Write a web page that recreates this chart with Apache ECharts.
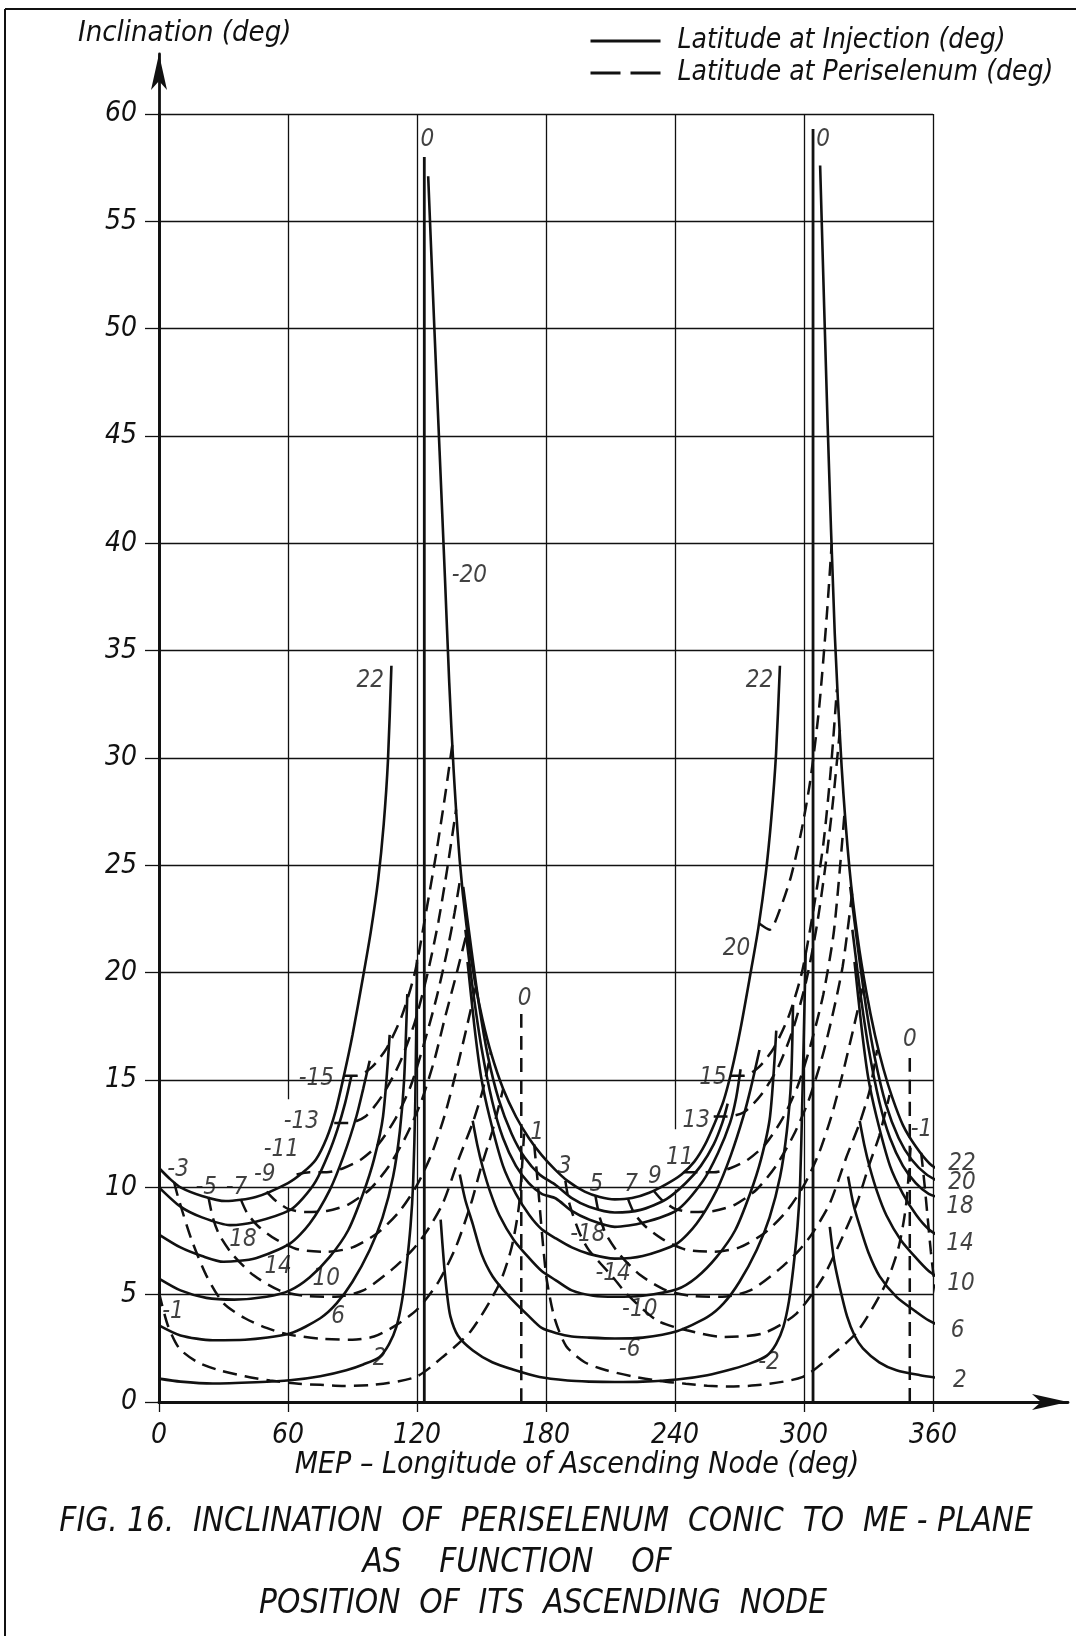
<!DOCTYPE html>
<html>
<head>
<meta charset="utf-8">
<script src="https://cdn.jsdelivr.net/npm/echarts@6/dist/echarts.min.js"></script>
<style>
  html, body { margin: 0; padding: 0; background: #fff; }
  #chart { width: 1076px; height: 1636px; }
</style>
</head>
<body>
<div id="chart"></div>
<script>
// axis ticks
const xTicks = [0, 60, 120, 180, 240, 300, 360];
const yTickStep = 5;
// vertical grid lines have a gap where labels sit
const gridGapX = [60, 240];
const gridGapFrom = [10.0, 9.9];
const gridGapTo = [14.1, 12.7];

// ---- solid: latitude at injection ----
// right end of each curve (descends from the peak near 305 to 365)
const R22x = [307.5, 311, 314.3, 317.5, 321.2, 325, 329, 333, 337, 341, 346, 352, 358.5, 364.6];
const R22y = [57.6, 45.5, 35.8, 29.6, 24.8, 21.6, 19.1, 17.1, 15.5, 14.2, 12.9, 11.9, 11.1, 10.7];
const R20x = [321.5, 325, 329, 333, 338, 344, 350, 357, 364.6];
const R20y = [24.0, 21.2, 18.3, 16.0, 13.9, 12.3, 11.3, 10.6, 10.18];
const R18x = [322.5, 326, 330, 335, 340, 346, 352, 358, 364.6];
const R18y = [22.0, 19.2, 16.5, 14.0, 12.3, 11.0, 10.2, 9.7, 9.48];
const R14x = [323.5, 326.7, 329.8, 333.7, 340, 346, 352.3, 358, 364.6];
const R14y = [20.5, 17.5, 15.15, 13.3, 11.0, 9.7, 8.7, 8.05, 7.62];
const R10x = [325.9, 328, 330.5, 334, 338.3, 345, 352.2, 358, 364.6];
const R10y = [13.1, 12.0, 10.96, 9.8, 8.7, 7.55, 6.7, 6.1, 5.67];
const R6x = [320.5, 323, 325.9, 330, 335.2, 343, 352.2, 358, 364.6];
const R6y = [10.5, 9.2, 8.2, 6.95, 5.85, 4.9, 4.2, 3.8, 3.5];
const R2x = [312, 314, 316.6, 320, 323.5, 327.4, 335, 343, 354, 364.6];
const R2y = [8.16, 6.6, 5.36, 4.0, 3.1, 2.5, 1.85, 1.48, 1.25, 1.09];

// left U (0 to the arm near 120)
const L22x = [0, 5, 10, 20, 31, 45, 60, 67, 73, 78, 82, 86, 90, 94.9, 98.5, 101.9, 104.5, 106.5, 108.1];
const L22y = [10.9, 10.4, 10.0, 9.6, 9.36, 9.55, 10.2, 10.7, 11.3, 12.3, 13.5, 15.2, 17.1, 19.8, 21.9, 24.3, 26.9, 29.9, 34.3];
const L18x = [0, 10, 20, 33, 45, 60.9, 67, 73, 79, 83, 86.5, 89.5];
const L18y = [10.0, 9.1, 8.6, 8.24, 8.4, 8.94, 9.5, 10.3, 11.6, 12.7, 13.9, 15.2];
const L14x = [0, 10, 20, 30, 45, 60.9, 70, 79.4, 86, 91.8, 95, 98];
const L14y = [7.8, 7.2, 6.8, 6.53, 6.7, 7.38, 8.3, 9.87, 11.5, 13.3, 14.6, 15.9];
const L10x = [0, 10, 22, 35, 50, 60.9, 70, 79.4, 88, 94.9, 100, 104.2, 107.3];
const L10y = [5.75, 5.2, 4.85, 4.77, 4.9, 5.2, 5.8, 6.76, 8.0, 9.7, 11.3, 13.3, 17.1];
const L6x = [0, 10, 25, 40, 60.9, 75, 82.6, 90, 98, 104, 108.9, 112, 114, 115.5];
const L6y = [3.57, 3.1, 2.88, 2.9, 3.19, 3.9, 4.59, 5.6, 7.08, 8.6, 10.5, 12.6, 15.0, 19.0];
const L2x = [0, 10, 25, 45, 60.9, 75, 87.1, 95, 102.6, 107, 110.4, 113, 115.1, 117, 118.2, 119.2, 120.0];
const L2y = [1.09, 0.95, 0.86, 0.92, 1.01, 1.2, 1.48, 1.75, 2.1, 2.7, 3.5, 4.7, 6.3, 8.2, 10.2, 14.0, 20.6];

// middle U (peak near 125 down to 212 and up to the arm near 300)
const M22x = [125.2, 128, 130.5, 133, 135, 137, 139.9, 143, 146.9, 150.5, 154.6, 160, 166, 172, 178, 184, 190, 198, 205, 212, 220, 228, 236, 243, 249, 254, 258.5, 262.5, 266.5, 270.5, 275, 278.8, 282.2, 284.8, 287, 288.8];
const M22y = [57.1, 50.2, 44.3, 38.4, 33.5, 29.5, 25.2, 22.2, 19.6, 17.8, 16.2, 14.6, 13.3, 12.3, 11.5, 10.85, 10.3, 9.8, 9.55, 9.44, 9.5, 9.75, 10.15, 10.6, 11.2, 12.0, 13.0, 14.0, 15.5, 17.4, 19.9, 22.1, 24.6, 27.2, 30.2, 34.3];
const M20x = [141.5, 145, 149, 153, 158, 164, 170, 177, 184.6, 192, 200, 212, 224, 236, 245, 252, 258, 262, 264.5];
const M20y = [24.0, 21.3, 18.4, 16.1, 14.1, 12.5, 11.4, 10.6, 10.1, 9.5, 9.1, 8.83, 8.95, 9.45, 10.2, 11.0, 12.0, 13.0, 13.9];
const M18x = [142.5, 146, 150, 155, 160, 166, 172, 178, 184.6, 192, 200, 212, 225, 240.9, 253, 260, 265.6, 268.5, 270.5];
const M18y = [22.0, 19.2, 16.5, 14.0, 12.3, 11.0, 10.2, 9.7, 9.48, 8.9, 8.5, 8.16, 8.35, 8.94, 10.3, 11.6, 13.0, 14.2, 15.5];
const M14x = [143.5, 146.7, 149.8, 153.7, 160, 166, 172.3, 178, 184.6, 192, 200, 212, 225, 240.9, 250, 259.4, 266, 271.8, 275.2, 279.3];
const M14y = [20.5, 17.5, 15.15, 13.3, 11.0, 9.7, 8.7, 8.05, 7.62, 7.2, 6.9, 6.68, 6.8, 7.38, 8.3, 9.87, 11.5, 13.3, 14.6, 16.4];
const M10x = [145.9, 148, 150.5, 154, 158.3, 165, 172.2, 178, 184.6, 192, 202, 212, 225, 240.9, 250, 259.4, 268, 274.9, 280, 284.2, 287.1];
const M10y = [13.1, 12.0, 10.96, 9.8, 8.7, 7.55, 6.7, 6.1, 5.67, 5.2, 4.95, 4.9, 4.95, 5.25, 5.8, 6.76, 8.0, 9.7, 11.3, 13.3, 17.3];
const M6x = [139.9, 142.5, 145.9, 150, 155.2, 163, 172, 178, 185, 192, 200, 212, 225, 240.9, 255, 262.6, 270, 278, 284, 288.9, 292, 294, 294.9];
const M6y = [10.6, 9.4, 8.3, 6.9, 5.85, 4.9, 4.0, 3.45, 3.2, 3.05, 3.0, 2.96, 3.0, 3.3, 3.95, 4.59, 5.6, 7.08, 8.6, 10.5, 12.6, 15.0, 18.5];
const M2x = [131, 132.5, 134, 135.5, 139, 146, 155, 165, 177, 190, 200, 212, 225, 240.9, 255, 267.1, 275, 282.6, 287, 290.4, 293, 295.1, 297, 298.2, 299.2, 300.8];
const M2y = [8.5, 6.5, 5.0, 4.0, 3.1, 2.4, 1.85, 1.5, 1.16, 1.0, 0.95, 0.93, 0.95, 1.05, 1.25, 1.55, 1.8, 2.15, 2.7, 3.5, 4.7, 6.3, 8.2, 10.2, 14.0, 21.0];

// near-vertical "0" lines
const A0Lx = [123.4, 123.4];
const A0Ly = [0, 58.0];
const A0Rx = [304.2, 304.2];
const A0Ry = [0, 59.3];

// ---- dashed: latitude at periselenum ----
const Dm1ax = [354.5, 356, 357.5, 359, 360.5, 362, 363.5];
const Dm1ay = [11.6, 10.2, 8.6, 7.0, 5.7, 4.8, 4.2];
const Dm1bx = [0, 4, 9.4, 18, 28, 40, 51.6, 65, 75, 85, 100, 119.5, 132, 145, 158.3, 164, 167.5, 169.8];
const Dm1by = [5.1, 3.6, 2.5, 1.85, 1.48, 1.2, 1.0, 0.85, 0.8, 0.75, 0.8, 1.17, 2.1, 3.3, 5.5, 7.2, 9.2, 12.5];
const Dm3x = [7, 9, 15, 22, 30, 40, 50, 60, 75, 90, 100, 109, 120, 130, 138, 145, 150, 155, 160];
const Dm3y = [10.25, 9.5, 7.6, 5.9, 4.6, 3.9, 3.45, 3.15, 2.95, 2.9, 3.05, 3.5, 4.3, 5.6, 7.2, 9.2, 11.0, 12.6, 14.55];
const Dm5x = [23, 25, 28, 34, 44, 56, 67, 82, 95, 108.7, 118, 124.2, 132, 139.7, 145.9, 150.5, 154.4];
const Dm5y = [9.55, 8.6, 7.8, 6.9, 5.9, 5.2, 4.95, 4.9, 5.2, 6.2, 7.1, 7.9, 9.25, 11.4, 13.0, 14.5, 16.3];
const Dm7x = [38, 41, 46, 54, 65, 78, 90, 102, 112, 120, 127, 133, 138, 143, 147.5];
const Dm7y = [9.45, 8.8, 8.2, 7.6, 7.1, 7.0, 7.2, 7.9, 8.9, 10.1, 11.6, 13.4, 15.3, 17.4, 19.4];
const Dm9x = [50, 54, 60, 68, 78, 88, 98, 107, 115, 122, 128, 133, 138, 143.3];
const Dm9y = [9.8, 9.4, 9.0, 8.85, 8.9, 9.2, 9.9, 11.0, 12.4, 14.0, 15.9, 17.9, 19.8, 21.9];
const Dm11x = [64, 70, 78, 86, 94, 102, 110, 117, 123, 129, 134, 137.5, 140.3];
const Dm11y = [10.6, 10.7, 10.7, 10.9, 11.3, 12.0, 13.2, 14.7, 16.6, 18.8, 21.0, 22.8, 24.5];
const Dm13x = [81.5, 88, 96, 104, 112, 119, 125, 130, 134, 138.2];
const Dm13y = [13.0, 13.0, 13.3, 14.3, 15.8, 17.7, 20.0, 22.4, 24.8, 27.6];
const Dm15x = [86, 92, 99, 106, 113, 119, 124, 129, 133, 136.4];
const Dm15y = [15.2, 15.2, 15.6, 16.5, 18.0, 20.0, 22.7, 25.6, 28.2, 30.6];

const Dp1x = [174.5, 176, 177.5, 179, 180.5, 184, 189.4, 198, 208, 220, 231.6, 245, 255, 265, 280, 299.5, 312, 325, 338, 344, 347.5, 349.8];
const Dp1y = [12.0, 10.4, 8.6, 6.9, 5.6, 3.9, 2.6, 1.85, 1.48, 1.2, 1.0, 0.85, 0.76, 0.72, 0.8, 1.17, 2.1, 3.3, 5.5, 7.2, 9.2, 12.2];
const Dp3x = [189, 191, 195.7, 200, 211, 217.4, 231.6, 245.5, 262.6, 281, 296.5, 308.8, 316.6, 324.4, 330.5, 335, 339.8];
const Dp3y = [10.3, 9.2, 7.85, 7.07, 5.83, 5.05, 3.8, 3.34, 3.03, 3.2, 4.12, 5.8, 7.4, 9.2, 11.1, 12.4, 14.3];
const Dp5x = [203, 205, 208, 214, 224, 236, 247, 262, 275, 288.7, 298, 304.2, 312, 319.7, 325.9, 330.5, 334];
const Dp5y = [9.6, 8.6, 7.8, 6.9, 5.9, 5.2, 4.95, 4.9, 5.2, 6.2, 7.1, 7.9, 9.25, 11.4, 13.0, 14.5, 16.4];
const Dp7x = [218, 221, 226, 234, 245, 258, 270, 282, 292, 300, 307, 313, 318, 323, 328];
const Dp7y = [9.5, 8.8, 8.2, 7.6, 7.1, 7.0, 7.2, 7.9, 8.9, 10.1, 11.6, 13.4, 15.3, 17.4, 19.6];
const Dp9x = [230, 234, 240, 248, 258, 268, 278, 287, 295, 302, 308, 313, 318, 322.5];
const Dp9y = [9.85, 9.4, 9.0, 8.85, 8.9, 9.2, 9.9, 11.0, 12.4, 14.0, 15.9, 17.9, 20.3, 23.8];
const Dp11x = [244, 250, 258, 266, 274, 282, 290, 297, 303, 309, 314, 318.9];
const Dp11y = [10.7, 10.7, 10.7, 10.9, 11.3, 12.0, 13.2, 14.7, 16.6, 19.0, 22.0, 27.5];
const Dp13x = [258, 264, 272, 280, 288, 295, 301, 306, 310, 313.5, 316.7];
const Dp13y = [13.3, 13.3, 13.5, 14.3, 15.6, 17.4, 19.6, 22.2, 25.0, 28.0, 31.3];
const Dp15x = [266, 272, 279, 286, 293, 299, 304, 309, 312.5, 315.3];
const Dp15y = [15.2, 15.2, 15.6, 16.5, 18.0, 20.0, 22.7, 26.0, 29.5, 33.2];
const Dp20x = [279, 284, 289, 294, 299, 303, 307, 310.5, 312.9];
const Dp20y = [22.3, 22.0, 23.0, 24.5, 26.7, 29.0, 32.3, 36.5, 40.0];

const D0ax = [168.5, 168.5];
const D0ay = [0, 18.3];
const D0bx = [349.2, 349.2];
const D0by = [0, 16.2];

// curve labels
const labelText = ['0', '0', '22', '22', '-20', '20',
  '18', '14', '10', '6', '2',
  '-18', '-14', '-10', '-6', '-2',
  '22', '20', '18', '14', '10', '6', '2',
  '-1', '0', '0', '1', '3', '5', '7', '9', '11', '13', '15',
  '-3', '-5', '-7', '-9', '-11', '-13', '-15', '-1'];
const labelX = [124.8, 308.9, 98.2, 279.3, 144.4, 268.6,
  39.1, 55.4, 77.8, 83.3, 102.6,
  199.5, 211.2, 223.6, 218.9, 283.7,
  373.5, 373.5, 372.5, 372.5, 373, 371.5, 372.5,
  354.6, 349.2, 170.1, 175.9, 188.7, 203.4, 219.6, 230.6, 242.2, 249.9, 257.7,
  8.9, 22.0, 36.0, 49.2, 56.9, 66.2, 73.2, 6.5];
const labelY = [58.8, 58.8, 33.6, 33.6, 38.5, 21.1,
  7.54, 6.3, 5.75, 3.96, 2.02,
  7.77, 5.98, 4.28, 2.41, 1.85,
  11.1, 10.2, 9.1, 7.38, 5.5, 3.34, 1.01,
  12.67, 16.86, 18.8, 12.55, 10.96, 10.1, 10.1, 10.5, 11.4, 13.1, 15.1,
  10.8, 10.0, 10.0, 10.57, 11.73, 13.06, 15.07, 4.2];

const solidCurves = [
  [R22x, R22y], [R20x, R20y], [R18x, R18y], [R14x, R14y], [R10x, R10y], [R6x, R6y], [R2x, R2y],
  [L22x, L22y], [L18x, L18y], [L14x, L14y], [L10x, L10y], [L6x, L6y], [L2x, L2y],
  [M22x, M22y], [M20x, M20y], [M18x, M18y], [M14x, M14y], [M10x, M10y], [M6x, M6y], [M2x, M2y]
];
const zeroLines = [[A0Lx, A0Ly], [A0Rx, A0Ry]];
const dashedCurves = [
  [Dm1ax, Dm1ay], [Dm1bx, Dm1by], [Dm3x, Dm3y], [Dm5x, Dm5y], [Dm7x, Dm7y], [Dm9x, Dm9y],
  [Dm11x, Dm11y], [Dm13x, Dm13y], [Dm15x, Dm15y],
  [Dp1x, Dp1y], [Dp3x, Dp3y], [Dp5x, Dp5y], [Dp7x, Dp7y], [Dp9x, Dp9y],
  [Dp11x, Dp11y], [Dp13x, Dp13y], [Dp15x, Dp15y], [Dp20x, Dp20y],
  [D0ax, D0ay], [D0bx, D0by]
];

const INK = '#111';
const FONT = "'DejaVu Sans Condensed', 'Liberation Sans Narrow', 'DejaVu Sans', sans-serif";
const SOLID = 'Latitude at Injection (deg)';
const DASHED = 'Latitude at Periselenum (deg)';

function pairs(xs, ys) {
  return xs.map((x, i) => [x, ys[i]]);
}

// vertical grid lines, split where the reference leaves a gap
const vGrid = [];
xTicks.slice(1).forEach(x => {
  const k = gridGapX.indexOf(x);
  if (k < 0) {
    vGrid.push({ coords: [[x, 0], [x, 60]] });
  } else {
    vGrid.push({ coords: [[x, 0], [x, gridGapFrom[k]]] });
    vGrid.push({ coords: [[x, gridGapTo[k]], [x, 60]] });
  }
});

const series = [];
series.push({
  type: 'lines', coordinateSystem: 'cartesian2d', silent: true, z: 1,
  lineStyle: { color: INK, width: 1.3, opacity: 1 },
  data: vGrid
});
solidCurves.forEach(c => series.push({
  name: SOLID, type: 'line', data: pairs(c[0], c[1]), smooth: 0.25,
  symbol: 'none', clip: false, silent: true, z: 4, color: INK,
  lineStyle: { color: INK, width: 2.6 }
}));
zeroLines.forEach(c => series.push({
  name: SOLID, type: 'line', data: pairs(c[0], c[1]),
  symbol: 'none', clip: false, silent: true, z: 4, color: INK,
  lineStyle: { color: INK, width: 2.8 }
}));
dashedCurves.forEach(c => series.push({
  name: DASHED, type: 'line', data: pairs(c[0], c[1]), smooth: 0.25,
  symbol: 'none', clip: false, silent: true, z: 3, color: INK,
  lineStyle: { color: INK, width: 2.5, type: [14, 8] }
}));
series.push({
  name: 'labels', type: 'scatter', symbolSize: 0, silent: true, z: 6, clip: false,
  data: labelText.map((t, i) => ({ name: t, value: [labelX[i], labelY[i]] })),
  label: {
    show: true, position: 'inside', formatter: p => p.name,
    color: INK, fontSize: 24, fontStyle: 'italic', fontFamily: FONT
  }
});

const chart = echarts.init(document.getElementById('chart'), null, { renderer: 'canvas' });
chart.setOption({
  backgroundColor: '#fff',
  animation: false,
  legend: {
    orient: 'vertical', left: 584, top: 22, itemWidth: 70, itemHeight: 14, itemGap: 4,
    data: [
      { name: SOLID, lineStyle: { width: 3 } },
      { name: DASHED, lineStyle: { width: 3, type: [30, 10] } }
    ],
    selectedMode: false,
    itemStyle: { opacity: 0 },
    textStyle: { color: INK, fontSize: 28, fontStyle: 'italic', fontFamily: FONT, padding: [0, 0, 0, 12] }
  },
  grid: [
    { left: 159, right: 143, top: 114, bottom: 234 },
    { left: 159, right: 8, top: 54, bottom: 234 }
  ],
  xAxis: [
    {
      type: 'value', min: 0, max: 360, interval: 60,
      axisLine: { show: true, lineStyle: { color: INK, width: 2.8 } },
      axisTick: { show: true, length: 10, lineStyle: { color: INK, width: 1.3 } },
      axisLabel: { color: INK, fontSize: 28, fontStyle: 'italic', fontFamily: FONT, margin: 20 },
      splitLine: { show: false }
    },
    {
      gridIndex: 1, type: 'value', min: 0, max: 1,
      axisLine: { show: true, symbol: ['none', 'arrow'], symbolSize: [12, 36], lineStyle: { color: INK, width: 2.8 } },
      axisTick: { show: false }, axisLabel: { show: false }, splitLine: { show: false }
    }
  ],
  yAxis: [
    {
      type: 'value', min: 0, max: 60, interval: yTickStep,
      axisLine: { show: true, lineStyle: { color: INK, width: 2.8 } },
      axisTick: { show: true, length: 14, lineStyle: { color: INK, width: 1.3 } },
      axisLabel: { color: INK, fontSize: 28, fontStyle: 'italic', fontFamily: FONT, margin: 22 },
      splitLine: { show: true, lineStyle: { color: INK, width: 1.3 } }
    },
    {
      gridIndex: 1, type: 'value', min: 0, max: 1,
      axisLine: { show: true, symbol: ['none', 'arrow'], symbolSize: [12, 36], lineStyle: { color: INK, width: 2.8 } },
      axisTick: { show: false }, axisLabel: { show: false }, splitLine: { show: false }
    }
  ],
  graphic: [
    { type: 'line', shape: { x1: 5, y1: 9, x2: 1076, y2: 9 }, style: { stroke: INK, lineWidth: 2 }, silent: true },
    { type: 'line', shape: { x1: 5, y1: 9, x2: 5, y2: 1636 }, style: { stroke: INK, lineWidth: 2 }, silent: true },
    { type: 'text', x: 78, y: 33, silent: true,
      style: { text: 'Inclination (deg)', fill: INK, fontSize: 29, fontStyle: 'italic', fontFamily: FONT, verticalAlign: 'middle' } },
    { type: 'text', x: 577, y: 1465, silent: true,
      style: { text: 'MEP – Longitude of Ascending Node (deg)', fill: INK, fontSize: 30, fontStyle: 'italic', fontFamily: FONT, align: 'center', verticalAlign: 'middle' } },
    { type: 'text', x: 546, y: 1522, silent: true,
      style: { text: 'FIG. 16.  INCLINATION  OF  PERISELENUM  CONIC  TO  ME - PLANE', fill: INK, fontSize: 33, fontStyle: 'italic', fontFamily: FONT, align: 'center', verticalAlign: 'middle' } },
    { type: 'text', x: 517, y: 1563, silent: true,
      style: { text: 'AS    FUNCTION    OF', fill: INK, fontSize: 33, fontStyle: 'italic', fontFamily: FONT, align: 'center', verticalAlign: 'middle' } },
    { type: 'text', x: 543, y: 1604, silent: true,
      style: { text: 'POSITION  OF  ITS  ASCENDING  NODE', fill: INK, fontSize: 33, fontStyle: 'italic', fontFamily: FONT, align: 'center', verticalAlign: 'middle' } }
  ],
  series: series
});
</script>
</body>
</html>
